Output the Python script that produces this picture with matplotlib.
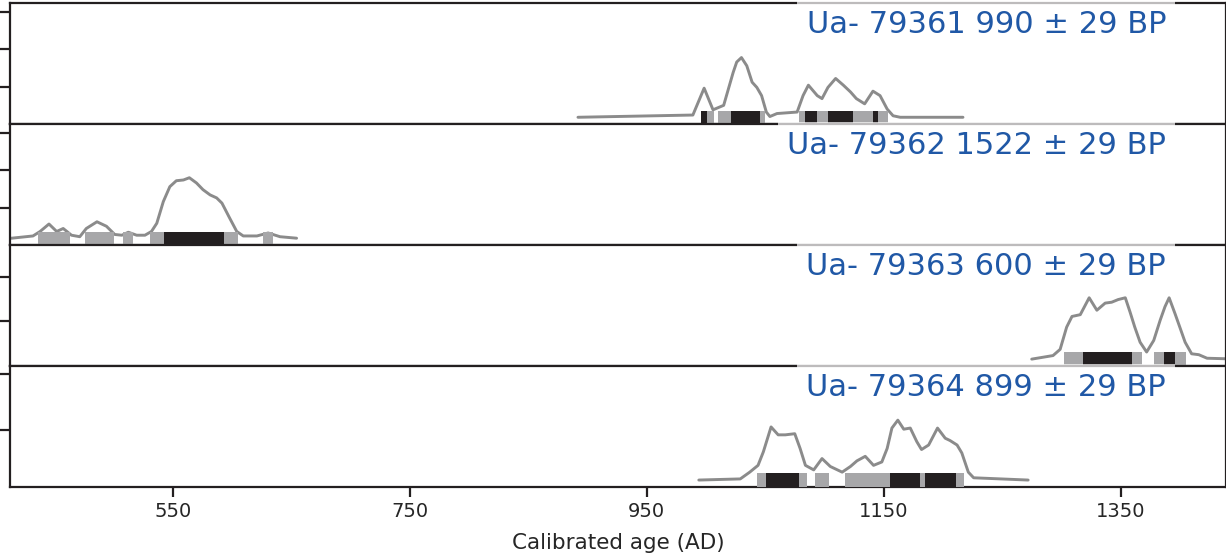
import numpy as np
from matplotlib import pyplot as plt

# Radiocarbon samples shown in the four panels (top to bottom)
lab_codes = ["Ua- 79361", "Ua- 79362", "Ua- 79363", "Ua- 79364"]
bp_ages = [990, 1522, 600, 899]
bp_errors = [29, 29, 29, 29]

# Calibrated probability distributions: calendar year AD and density
years_79361 = [892, 989, 998.5, 1006, 1015, 1023, 1026, 1030, 1034.5, 1039, 1043, 1047, 1051, 1054,
               1060, 1077, 1082, 1086.5, 1094, 1098, 1103, 1109.5, 1116, 1122, 1127, 1134, 1141,
               1147, 1153, 1158, 1164, 1217]
dens_79361 = [0, 0.0003, 0.0039, 0.0010, 0.0016, 0.0060, 0.0074, 0.0080, 0.0069, 0.0047, 0.0040,
              0.0029, 0.0007, 0.0001, 0.0005, 0.0007, 0.0029, 0.0043, 0.0029, 0.0025, 0.0040,
              0.0052, 0.0043, 0.0034, 0.0025, 0.0018, 0.0035, 0.0029, 0.0011, 0.0002, 0, 0]

years_79362 = [400, 414, 432, 438, 445.5, 452, 457.5, 464.5, 471.5, 477, 486, 494, 501, 507, 512.5,
               519.5, 526.5, 532, 536.5, 542, 547.5, 553, 559, 564, 570, 575.5, 581.5, 587, 591.5,
               598, 604, 609.5, 621, 630.5, 640.5, 654.5]
dens_79362 = [0, 0, 0.0003, 0.0009, 0.0019, 0.0009, 0.0013, 0.0004, 0.0002, 0.0013, 0.0022, 0.0016,
              0.0005, 0.0004, 0.0008, 0.0004, 0.0004, 0.0009, 0.0020, 0.0049, 0.0069, 0.0077,
              0.0078, 0.0081, 0.0074, 0.0065, 0.0058, 0.0054, 0.0047, 0.0027, 0.0009, 0.0003,
              0.0003, 0.0007, 0.0002, 0]

years_79363 = [1275, 1293, 1299, 1304.5, 1309, 1316, 1323.5, 1330, 1337, 1342.5, 1348, 1354, 1358,
               1362, 1366.5, 1372, 1378, 1383.5, 1387.5, 1391, 1396, 1400, 1404.5, 1410, 1416,
               1423, 1450]
dens_79363 = [0, 0.0004, 0.0011, 0.0036, 0.0048, 0.0050, 0.0069, 0.0055, 0.0063, 0.0064, 0.0067,
              0.0069, 0.0053, 0.0036, 0.0019, 0.0008, 0.0021, 0.0044, 0.0059, 0.0069, 0.0051,
              0.0036, 0.0019, 0.0006, 0.0005, 0.0001, 0]

years_79364 = [994, 1029, 1037, 1044, 1048.5, 1055, 1061, 1067, 1075, 1079.5, 1084, 1091, 1098,
               1105, 1115, 1122, 1127.5, 1134.5, 1141.5, 1148.5, 1153, 1157, 1162, 1167, 1172.5,
               1178, 1182, 1188, 1195.5, 1202, 1206, 1212, 1216, 1221.5, 1226, 1272]
dens_79364 = [0, 0.0001, 0.0007, 0.0013, 0.0025, 0.0047, 0.0040, 0.0040, 0.0041, 0.0028, 0.0013,
              0.0009, 0.0019, 0.0012, 0.0007, 0.0012, 0.0017, 0.0021, 0.0013, 0.0016, 0.0028,
              0.0046, 0.0053, 0.0045, 0.0046, 0.0034, 0.0027, 0.0031, 0.0046, 0.0037, 0.0035,
              0.0031, 0.0024, 0.0007, 0.0002, 0]

# 95.4 % ranges (grey bars) and 68.2 % ranges (black bars)
range95_79361 = [(996, 1007), (1010, 1050), (1079, 1154)]
range68_79361 = [(996, 1001), (1021, 1046), (1084, 1094), (1103, 1124), (1141, 1145)]
range95_79362 = [(436, 463), (476, 500), (508, 516), (531, 605), (626, 635)]
range68_79362 = [(543, 593)]
range95_79363 = [(1302, 1368), (1378, 1405)]
range68_79363 = [(1318, 1360), (1387, 1396)]
range95_79364 = [(1043, 1085), (1092, 1104), (1117, 1218)]
range68_79364 = [(1051, 1079), (1155, 1181), (1185, 1211)]

x_ticks = [550, 750, 950, 1150, 1350]

curves = [(years_79361, dens_79361), (years_79362, dens_79362),
          (years_79363, dens_79363), (years_79364, dens_79364)]
ranges = [(range95_79361, range68_79361), (range95_79362, range68_79362),
          (range95_79363, range68_79363), (range95_79364, range68_79364)]
y_tops = [0.0162, 0.0162, 0.0136, 0.0107]  # each panel scaled to its own peak

W, H = 1226, 556
fig, axes = plt.subplots(4, 1, sharex=True, figsize=(W / 100, H / 100), dpi=100)
fig.subplots_adjust(left=10 / W, right=1.0, top=1 - 3 / H, bottom=1 - 486.7 / H, hspace=0)

for i, ax in enumerate(axes):
    years, dens = curves[i]
    r95, r68 = ranges[i]
    ytop = y_tops[i]
    off = 0.055 * ytop  # lift the curve so the range bars sit below it

    ax.plot(years, np.array(dens) + off, color="#8b8b8b", lw=2.1, zorder=2,
            solid_capstyle="round", solid_joinstyle="round")
    ax.broken_barh([(a, b - a) for a, b in r95], (0, 2 * off), facecolors="#a7a7a9", zorder=3)
    ax.broken_barh([(a, b - a) for a, b in r68], (0, 2 * off), facecolors="#231f20", zorder=4)

    ax.set_ylim(0, ytop)
    ax.set_yticks(np.arange(0.005, ytop, 0.005))
    ax.set_yticklabels([])
    ax.tick_params(axis="y", length=10, width=1.6, color="#231f20")
    for s in ax.spines.values():
        s.set_linewidth(1.6)
        s.set_color("#231f20")

    ax.text(0.9507, 0.82, "%s %d ± %d BP" % (lab_codes[i], bp_ages[i], bp_errors[i]),
            transform=ax.transAxes, ha="right", va="center", fontsize=22, color="#2058a6",
            bbox=dict(facecolor="white", edgecolor="none", alpha=0.7, boxstyle="square,pad=0.3"))

    if i < 3:
        ax.tick_params(axis="x", bottom=False)

ax = axes[-1]
ax.set_xlim(412.6, 1439)
ax.set_xticks(x_ticks)
ax.tick_params(axis="x", length=7, width=1.6, pad=4, labelsize=14, labelcolor="#262626",
               color="#231f20")
ax.set_xlabel("Calibrated age (AD)", fontsize=15.5, color="#262626", labelpad=8.5)

fig.savefig("out.png", dpi=100)
